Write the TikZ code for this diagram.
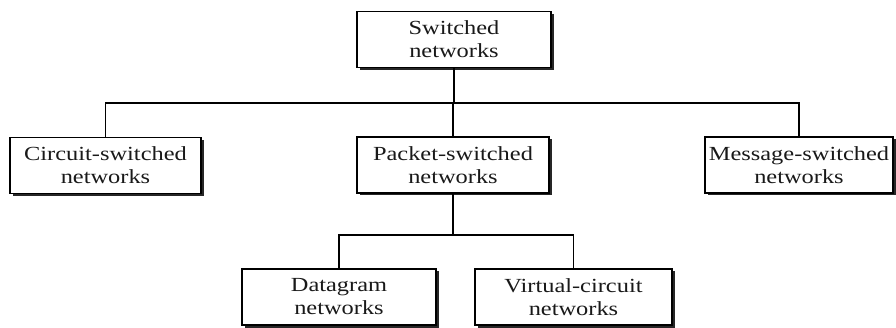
\documentclass[tikz,border=0pt]{standalone}
\usepackage{fontspec}
\setmainfont{Liberation Serif}[FakeStretch=1.22]
\usetikzlibrary{shadows}
\begin{document}
\begin{tikzpicture}[x=1pt,y=-1pt,
  box/.style={draw=black, line width=1.2pt, fill=white, align=center, inner sep=0pt,
    minimum height=56pt,
    font=\fontsize{20}{23}\selectfont, text=black!90,
    drop shadow={shadow xshift=2.5pt, shadow yshift=-2.5pt, fill=black, opacity=0.85}},
  link/.style={line width=1.8pt, black}]
\useasboundingbox (0,0) rectangle (896,328);
\node[box, minimum width=194pt] (top) at (454,39.5) {Switched\\networks};
\node[box, minimum width=191pt] (circ) at (105.5,165.5) {Circuit-switched\\networks};
\node[box, minimum width=192pt] (pkt) at (453,165) {Packet-switched\\networks};
\node[box, minimum width=188pt] (msg) at (799,165) {Message-switched\\networks};
\node[box, minimum width=194pt] (dgm) at (339,297) {Datagram\\networks};
\node[box, minimum width=197pt] (vc) at (573.5,297) {Virtual-circuit\\networks};
\coordinate (bus1) at (0,103);
\coordinate (bus2) at (0,235);
\draw[link] (top.south) -- (top.south |- bus1);
\draw[link] (circ.north) |- (bus1 -| msg.north) -- (msg.north);
\draw[link] (pkt.north) -- (pkt.north |- bus1);
\draw[link] (pkt.south) -- (pkt.south |- bus2);
\draw[link] (dgm.north) |- (bus2 -| vc.north) -- (vc.north);
\end{tikzpicture}
\end{document}
